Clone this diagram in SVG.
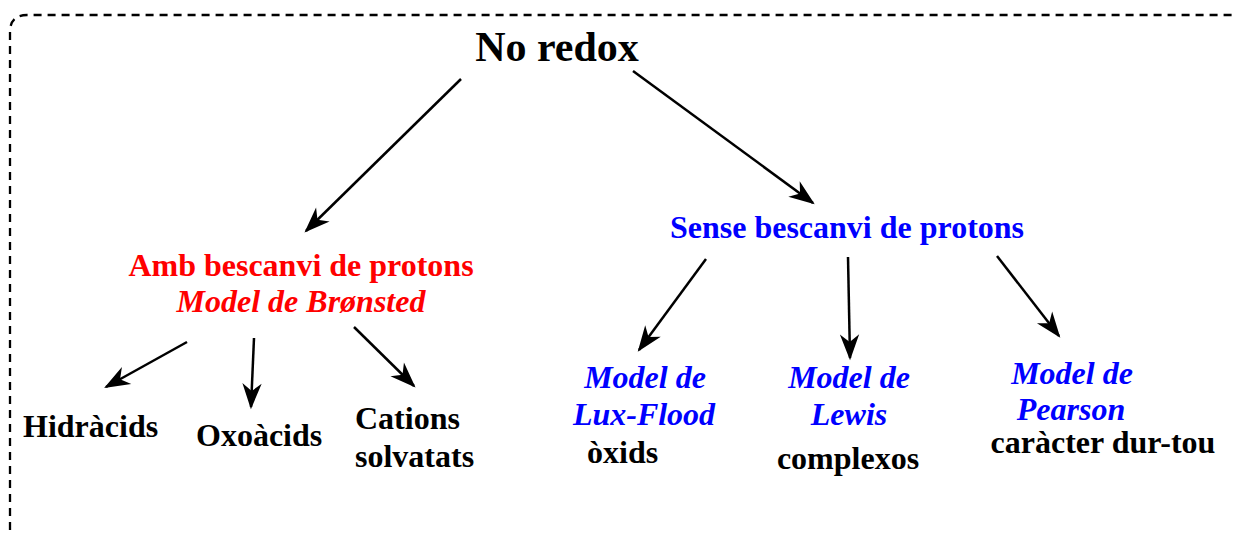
<svg xmlns="http://www.w3.org/2000/svg" width="1234" height="533" viewBox="0 0 1234 533">
<style>
text{font-family:"Liberation Serif","Times New Roman",serif;font-weight:bold;font-size:32px;text-anchor:middle}
.k{fill:#000}
.r{fill:#ff0000}
.b{fill:#0000ff}
.i{font-style:italic}
.st{text-anchor:start}
.c{stroke:#000;stroke-width:2.5;fill:none;marker-end:url(#ah)}
</style>
<defs>
<marker id="ah" markerUnits="userSpaceOnUse" markerWidth="30" markerHeight="30" viewBox="-24 -12 28 24" refX="0" refY="0" orient="auto">
<path d="M2,0 L-22,-9 L-15,0 L-22,9 Z" fill="#000"/>
</marker>
</defs>
<path d="M10,530 V32 Q10,15 27,15 H1234" fill="none" stroke="#000" stroke-width="2.3" stroke-dasharray="8,6"/>
<g id="connectors">
<line class="c" x1="461" y1="79" x2="306" y2="231"/>
<line class="c" x1="633" y1="71" x2="813" y2="203"/>
<line class="c" x1="187" y1="342" x2="106" y2="387"/>
<line class="c" x1="254" y1="338" x2="251" y2="407"/>
<line class="c" x1="354" y1="327" x2="414" y2="386"/>
<line class="c" x1="706" y1="259" x2="639" y2="350"/>
<line class="c" x1="848" y1="257" x2="850" y2="358"/>
<line class="c" x1="997" y1="256" x2="1059" y2="336"/>
</g>
<g id="noredox"><text class="k" x="557" y="61" style="font-size:42px">No redox</text></g>
<g id="amb">
<text class="r" x="301" y="276">Amb bescanvi de protons</text>
<text class="r i" x="301" y="312">Model de Brønsted</text>
</g>
<g id="sense"><text class="b" x="847" y="238">Sense bescanvi de protons</text></g>
<g id="hidracids"><text class="k st" x="23" y="437">Hidràcids</text></g>
<g id="oxoacids"><text class="k st" x="196" y="446">Oxoàcids</text></g>
<g id="cations">
<text class="k st" x="355" y="429">Cations</text>
<text class="k st" x="355" y="467">solvatats</text>
</g>
<g id="luxflood">
<text class="b i" x="645" y="388">Model de</text>
<text class="b i" x="644" y="425">Lux-Flood</text>
<text class="k st" x="587" y="463">òxids</text>
</g>
<g id="lewis">
<text class="b i" x="849" y="388">Model de</text>
<text class="b i" x="849" y="425">Lewis</text>
<text class="k" x="848" y="469">complexos</text>
</g>
<g id="pearson">
<text class="b i" x="1072" y="384">Model de</text>
<text class="b i" x="1071" y="420">Pearson</text>
<text class="k" x="1103" y="453">caràcter dur-tou</text>
</g>
</svg>
